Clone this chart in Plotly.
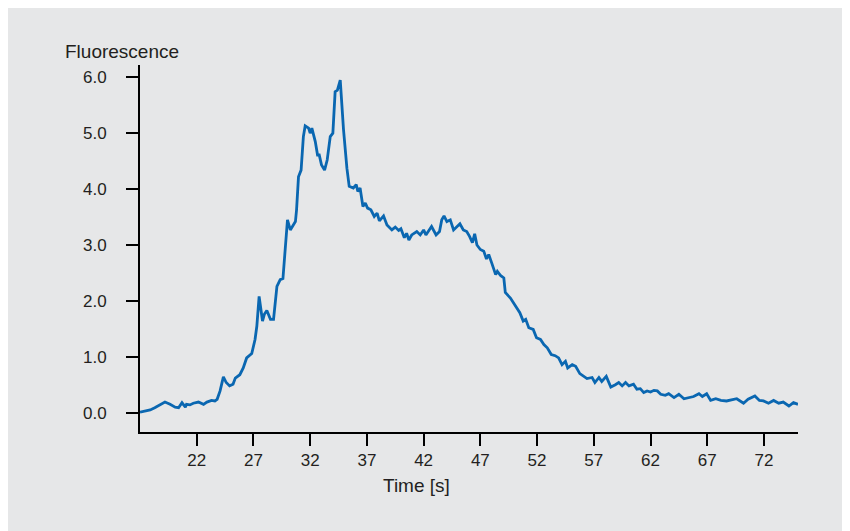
import plotly.graph_objects as go

# Time [s] and fluorescence values
time_s = [17.0, 17.4, 17.9, 18.3, 18.8, 19.2, 19.65, 20.1, 20.4, 20.7, 21.0, 21.1, 21.4, 21.7,
          22.15, 22.6, 22.9, 23.3, 23.6, 23.8, 24.06, 24.35, 24.6, 24.9, 25.2, 25.4, 25.8, 26.1,
          26.4, 26.85, 27.14, 27.3, 27.5, 27.8, 27.96, 28.18, 28.5, 28.77, 29.07, 29.36, 29.6,
          29.8, 30.0, 30.25, 30.5, 30.7, 30.8, 30.97, 31.2, 31.4, 31.56, 31.86, 32.0, 32.15,
          32.45, 32.65, 32.8, 33.0, 33.27, 33.5, 33.77, 34.0, 34.2, 34.4, 34.65, 34.94, 35.24,
          35.44, 35.8, 36.06, 36.2, 36.4, 36.65, 36.86, 37.06, 37.35, 37.65, 37.9, 38.1, 38.47,
          38.77, 39.2, 39.5, 39.8, 40.0, 40.3, 40.5, 40.7, 40.95, 41.4, 41.7, 42.0, 42.2, 42.5,
          42.7, 43.1, 43.4, 43.6, 43.8, 44.05, 44.35, 44.64, 44.94, 45.2, 45.5, 45.8, 46.06,
          46.3, 46.5, 46.7, 47.0, 47.3, 47.54, 47.74, 48.0, 48.35, 48.5, 48.8, 49.07, 49.2,
          49.65, 49.95, 50.25, 50.48, 50.78, 51.0, 51.27, 51.66, 51.95, 52.3, 52.6, 52.9, 53.25,
          53.6, 53.9, 54.2, 54.5, 54.7, 55.1, 55.4, 55.77, 56.1, 56.4, 56.85, 57.1, 57.45, 57.7,
          58.1, 58.5, 58.9, 59.2, 59.5, 59.8, 60.1, 60.5, 60.8, 61.1, 61.4, 61.7, 62.0, 62.3,
          62.6, 62.9, 63.3, 63.6, 64.07, 64.5, 64.95, 65.4, 65.8, 66.27, 66.57, 66.95, 67.3,
          67.75, 68.2, 68.7, 69.2, 69.6, 70.2, 70.6, 71.2, 71.6, 71.96, 72.4, 72.85, 73.3, 73.7,
          74.2, 74.6, 75.0]
fluorescence = [0.01, 0.03, 0.05, 0.09, 0.15, 0.19, 0.15, 0.10, 0.09, 0.18, 0.10, 0.15, 0.14, 0.17,
                0.19, 0.15, 0.19, 0.22, 0.21, 0.24, 0.39, 0.64, 0.54, 0.48, 0.51, 0.62, 0.68, 0.80,
                0.98, 1.06, 1.31, 1.55, 2.08, 1.64, 1.76, 1.83, 1.67, 1.67, 2.26, 2.38, 2.40,
                2.95, 3.45, 3.27, 3.35, 3.42, 3.63, 4.22, 4.34, 4.94, 5.13, 5.09, 5.00, 5.09,
                4.85, 4.61, 4.61, 4.43, 4.34, 4.52, 4.94, 5.00, 5.74, 5.77, 5.95, 5.06, 4.37,
                4.05, 4.02, 4.08, 3.96, 4.02, 3.69, 3.75, 3.66, 3.63, 3.51, 3.57, 3.43, 3.52,
                3.36, 3.27, 3.32, 3.26, 3.29, 3.13, 3.21, 3.09, 3.18, 3.24, 3.18, 3.27, 3.18, 3.27,
                3.33, 3.18, 3.24, 3.45, 3.52, 3.42, 3.45, 3.27, 3.32, 3.38, 3.27, 3.24, 3.15,
                3.04, 3.20, 3.00, 2.92, 2.89, 2.75, 2.83, 2.68, 2.47, 2.53, 2.45, 2.41, 2.15,
                2.05, 1.96, 1.87, 1.79, 1.64, 1.67, 1.52, 1.49, 1.34, 1.31, 1.22, 1.16, 1.04,
                1.02, 0.98, 0.86, 0.92, 0.80, 0.86, 0.83, 0.70, 0.65, 0.61, 0.63, 0.54, 0.63, 0.56,
                0.65, 0.46, 0.50, 0.54, 0.48, 0.54, 0.48, 0.51, 0.42, 0.43, 0.36, 0.39, 0.37, 0.40,
                0.39, 0.33, 0.31, 0.34, 0.27, 0.33, 0.25, 0.27, 0.29, 0.34, 0.29, 0.34, 0.22,
                0.25, 0.22, 0.21, 0.24, 0.25, 0.17, 0.24, 0.30, 0.22, 0.21, 0.17, 0.22, 0.17, 0.19,
                0.12, 0.18, 0.15]

x_ticks = [22, 27, 32, 37, 42, 47, 52, 57, 62, 67, 72]
y_ticks = [0, 1, 2, 3, 4, 5, 6]
y_tick_text = ["0.0", "1.0", "2.0", "3.0", "4.0", "5.0", "6.0"]

BG = "#e6e7e8"
TXT = "#231f20"
FONT = "Liberation Sans, Arial, sans-serif"

fig = go.Figure()
fig.add_trace(go.Scatter(x=time_s, y=fluorescence, mode="lines",
                         line=dict(color="#0a67b1", width=2.8), hoverinfo="skip"))

axis_common = dict(showline=True, linecolor="black", linewidth=2, ticks="outside",
                   ticklen=12, tickwidth=2, tickcolor="black", showgrid=False,
                   zeroline=False, tickfont=dict(family=FONT, size=17, color=TXT))

fig.update_xaxes(range=[17, 75], tickvals=x_ticks, ticktext=[str(v) for v in x_ticks],
                 ticklabelstandoff=0, **axis_common)
fig.update_yaxes(range=[-0.345, 6.22], tickvals=y_ticks, ticktext=y_tick_text,
                 ticklabelstandoff=16, **axis_common)

fig.add_annotation(text="Fluorescence", xref="paper", yref="paper", x=-0.0278, y=1.038,
                   xanchor="center", yanchor="middle", showarrow=False,
                   font=dict(family=FONT, size=19, color=TXT))
fig.add_annotation(text="Time [s]", xref="paper", yref="paper", x=0.4203, y=-0.1448,
                   xanchor="center", yanchor="middle", showarrow=False,
                   font=dict(family=FONT, size=19, color=TXT))

fig.update_layout(width=842, height=523, margin=dict(l=132, r=52, t=57, b=99),
                  paper_bgcolor=BG, plot_bgcolor="rgba(0,0,0,0)", showlegend=False)

fig.write_html("out.html")
